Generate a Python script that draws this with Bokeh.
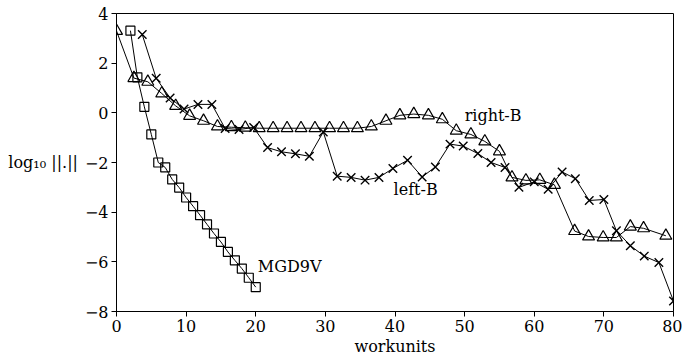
from bokeh.plotting import figure
from bokeh.models import Label, FixedTicker, Range1d
from bokeh.embed import file_html
from bokeh.resources import INLINE

# --- data ---
mgd_x = [2, 3, 4, 5, 6, 7, 8, 9, 10, 11, 12, 13, 14, 15, 16, 17, 18, 19, 20]
mgd_y = [3.31, 1.43, 0.24, -0.87, -2.0, -2.2, -2.68, -3.01, -3.41, -3.76,
         -4.12, -4.49, -4.86, -5.2, -5.6, -5.94, -6.27, -6.64, -7.02]

right_x = [0, 2.5, 4.5, 6.5, 8.5, 10.5, 12.5, 14.5, 16.5, 18.5, 20.5, 22.5,
           24.5, 26.5, 28.5, 30.6, 32.6, 34.6, 36.6, 38.7, 40.7, 42.7, 44.8,
           46.8, 48.8, 50.9, 52.9, 55.0, 56.8, 58.8, 60.8, 62.9, 65.8, 67.8,
           69.9, 71.8, 73.8, 75.7, 78.9]
right_y = [3.3, 1.4, 1.25, 0.78, 0.28, -0.12, -0.32, -0.55, -0.58, -0.6, -0.62,
           -0.62, -0.62, -0.62, -0.62, -0.62, -0.62, -0.62, -0.55, -0.32, -0.1,
           -0.05, -0.1, -0.26, -0.72, -0.87, -1.15, -1.55, -2.6, -2.72, -2.7,
           -2.9, -4.76, -4.98, -5.02, -5.02, -4.58, -4.65, -4.95]

left_x = [3.7, 5.7, 7.7, 9.7, 11.7, 13.7, 15.6, 17.6, 19.7, 21.7, 23.7, 25.7,
          27.7, 29.7, 31.7, 33.7, 35.7, 37.7, 39.7, 41.8, 43.9, 45.8, 47.9,
          49.8, 51.9, 53.8, 55.8, 57.8, 60.0, 62.0, 64.0, 65.9, 67.9, 70.0,
          71.8, 73.8, 75.8, 77.9, 80.0]
left_y = [3.15, 1.39, 0.6, 0.15, 0.34, 0.34, -0.63, -0.67, -0.59, -1.4, -1.57,
          -1.65, -1.75, -0.77, -2.55, -2.6, -2.71, -2.6, -2.24, -1.91, -2.58,
          -2.18, -1.26, -1.34, -1.64, -2.0, -2.2, -3.0, -2.78, -3.08, -2.38,
          -2.65, -3.53, -3.49, -4.75, -5.35, -5.77, -6.03, -7.58]

x_ticks = [0, 10, 20, 30, 40, 50, 60, 70, 80]
y_ticks = [-8, -6, -4, -2, 0, 2, 4]

FONT = "DejaVu Serif"
FS = "16px"

p = figure(frame_width=557, frame_height=298, output_backend="svg",
           toolbar_location=None,
           x_range=Range1d(0, 80), y_range=Range1d(-8, 4),
           min_border_left=116, min_border_right=9, min_border_top=13,
           min_border_bottom=5)
p.background_fill_color = "white"
p.border_fill_color = "white"
p.xgrid.visible = False
p.ygrid.visible = False
p.outline_line_color = "black"
p.outline_line_width = 1

for ax in (p.xaxis, p.yaxis):
    ax.major_tick_out = 5
    ax.major_tick_in = 0
    ax.minor_tick_line_color = None
    ax.axis_line_color = "black"
    ax.major_tick_line_color = "black"
    ax.major_label_text_font = FONT
    ax.major_label_text_font_size = FS
    ax.major_label_text_color = "black"
    ax.axis_label_text_font = FONT
    ax.axis_label_text_font_size = FS
    ax.axis_label_text_font_style = "normal"
    ax.axis_label_text_color = "black"

p.xaxis.ticker = FixedTicker(ticks=x_ticks)
p.yaxis.ticker = FixedTicker(ticks=y_ticks)
p.xaxis.major_label_standoff = 3
p.yaxis.major_label_standoff = 3
p.xaxis.axis_label = "workunits"
p.xaxis.axis_label_standoff = 2
p.yaxis.axis_label = "log₁₀ ||.||"
p.yaxis.axis_label_orientation = "horizontal"
p.yaxis.axis_label_standoff = 4

# lines
p.line(mgd_x, mgd_y, line_color="black", line_width=1)
p.line(right_x, right_y, line_color="black", line_width=1)
p.line(left_x, left_y, line_color="black", line_width=1)

# markers
p.scatter(mgd_x, mgd_y, marker="square", size=9, fill_color=None,
          line_color="black", line_width=1.2)
p.scatter(right_x, right_y, marker="triangle", size=12, fill_color=None,
          line_color="black", line_width=1.2)
p.scatter(left_x, left_y, marker="x", size=12, line_color="black",
          line_width=1.4)

# series labels
for x, y, t in [(50.0, -0.1, "right-B"), (39.8, -3.1, "left-B"),
                (20.3, -6.2, "MGD9V")]:
    p.add_layout(Label(x=x, y=y, text=t, text_font=FONT, text_font_size=FS,
                       text_color="black", text_baseline="alphabetic"))

open("out.html", "w").write(file_html(p, INLINE))
